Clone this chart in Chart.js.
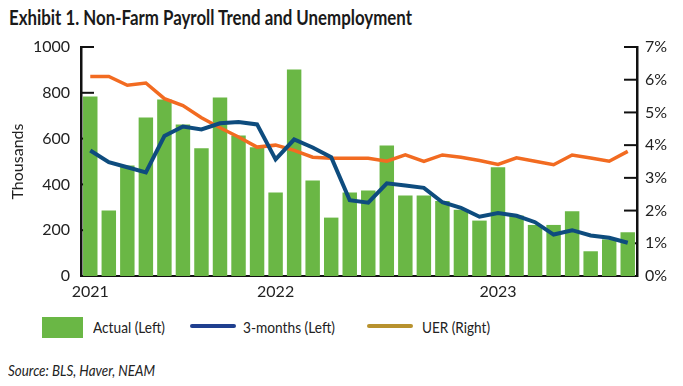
<!DOCTYPE html>
<html>
<head>
<meta charset="utf-8">
<script src="https://cdn.jsdelivr.net/npm/chart.js"></script>
<style>
  body { margin: 0; width: 683px; height: 386px; background: #fff; position: relative; overflow: hidden;
         font-family: Lato, 'Open Sans', sans-serif; color: #222; }
  #title { position: absolute; left: 9px; top: 4px; font-weight: bold; font-size: 21px; color: #1a1a1a; }
  #wrap { position: absolute; left: 0; top: 0; width: 683px; height: 300px; }
  .leg { position: absolute; top: 316px; font-size: 16px; line-height: 22px; }
  .fit { white-space: nowrap; transform-origin: 0 0; }
  .sw { position: absolute; }
  #source { position: absolute; left: 8px; top: 360px; font-size: 16px; font-style: italic; }
</style>
</head>
<body>
<div id="title" class="fit" data-w="403">Exhibit 1. Non-Farm Payroll Trend and Unemployment</div>
<div id="wrap"><canvas id="payChart"></canvas></div>

<div class="sw" style="left:42px;top:317px;width:41px;height:21px;background:#6ab745"></div>
<div class="leg fit" data-w="72" style="left:93px">Actual (Left)</div>
<div class="sw" style="left:190px;top:324px;width:46px;height:4px;border-radius:2px;background:#1f3f8f"></div>
<div class="leg fit" data-w="92" style="left:243px">3-months (Left)</div>
<div class="sw" style="left:367px;top:324px;width:46px;height:4px;border-radius:2px;background:#b8922e"></div>
<div class="leg fit" data-w="68" style="left:422px">UER (Right)</div>

<div id="source" class="fit" data-w="147">Source: BLS, Haver, NEAM</div>

<script>
// monthly, Mar 2021 - Aug 2023
var months = ['2021-03', '2021-04', '2021-05', '2021-06', '2021-07', '2021-08', '2021-09', '2021-10', '2021-11', '2021-12',
    '2022-01', '2022-02', '2022-03', '2022-04', '2022-05', '2022-06', '2022-07', '2022-08', '2022-09', '2022-10', '2022-11', '2022-12',
    '2023-01', '2023-02', '2023-03', '2023-04', '2023-05', '2023-06', '2023-07', '2023-08']

// payroll change, thousands
var actual = [784, 286, 482, 692, 771, 662, 558, 779, 613, 562,
    365, 902, 417, 255, 365, 373, 570, 352, 352, 327, 289, 242,
    475, 264, 223, 223, 283, 108, 160, 191]

var threeMonth = [548, 497, 475, 452, 611, 653, 640, 667, 672, 662,
    509, 596, 561, 519, 331, 320, 405, 395, 385, 322, 298, 259,
    275, 263, 235, 181, 200, 177, 167, 145]

// unemployment rate, %
var uer = [6.1, 6.1, 5.83, 5.9, 5.42, 5.21, 4.84, 4.53, 4.25, 3.94,
    4.0, 3.84, 3.63, 3.6, 3.6, 3.6, 3.51, 3.7, 3.5, 3.7, 3.63, 3.53,
    3.41, 3.61, 3.51, 3.4, 3.7, 3.61, 3.51, 3.81]

// the original uses a narrow face: squeeze texts to their widths there
document.querySelectorAll('.fit').forEach(function (el) {
    var r = el.getBoundingClientRect()
    el.style.transform = 'scaleX(' + (el.dataset.w / r.width) + ')'
})

var tickFont = { family: 'Lato', size: 16 }

// tick marks drawn inward, behind the bars
var innerTicks = {
    id: 'innerTicks',
    beforeDatasetsDraw: function (chart) {
        var c = chart.ctx, a = chart.chartArea
        c.save()
        c.strokeStyle = '#111'
        c.lineWidth = 2
        chart.scales.y.ticks.forEach(function (t) {
            var y = chart.scales.y.getPixelForValue(t.value)
            c.beginPath(); c.moveTo(a.left, y); c.lineTo(a.left + 13, y); c.stroke()
        })
        chart.scales.y2.ticks.forEach(function (t) {
            var y = chart.scales.y2.getPixelForValue(t.value)
            c.beginPath(); c.moveTo(a.right - 13, y); c.lineTo(a.right, y); c.stroke()
        })
        c.restore()
    }
}

var ctx = document.getElementById('payChart').getContext('2d')
var payChart = new Chart(ctx, {
    type: 'bar',
    data: {
        labels: months,
        datasets: [{
            type: 'line',
            label: 'UER (Right)',
            data: uer,
            yAxisID: 'y2',
            borderColor: '#f26b21',
            borderWidth: 3.5,
            pointRadius: 0,
            tension: 0,
            order: 1
        }, {
            type: 'line',
            label: '3-months (Left)',
            data: threeMonth,
            yAxisID: 'y',
            borderColor: '#0e4c7e',
            borderWidth: 4,
            pointRadius: 0,
            tension: 0,
            order: 0
        }, {
            label: 'Actual (Left)',
            data: actual,
            yAxisID: 'y',
            backgroundColor: '#6ab745',
            barPercentage: 0.78,
            categoryPercentage: 1,
            order: 2
        }]
    },
    options: {
        responsive: true,
        maintainAspectRatio: false,
        animation: false,
        layout: { padding: { top: 47, left: 0, right: 0, bottom: 0 } },
        plugins: { legend: { display: false }, tooltip: { enabled: false } },
        scales: {
            x: {
                grid: { display: false, drawTicks: false },
                border: { display: true, color: '#111', width: 2 },
                ticks: {
                    autoSkip: false, maxRotation: 0, padding: 6, color: '#222', font: tickFont,
                    callback: function (v, i) {
                        var m = months[i]
                        return (i === 0 || m.slice(5) === '01') ? m.slice(0, 4) : ''
                    }
                },
                afterFit: function (s) { s.height = 24 }
            },
            y: {
                position: 'left',
                min: 0, max: 1000,
                grid: { display: false, drawTicks: false },
                border: { display: true, color: '#111', width: 2.5 },
                ticks: {
                    stepSize: 200, padding: 11, color: '#222', font: tickFont,
                    callback: function (v) { return String(v) }
                },
                title: { display: true, text: 'Thousands', color: '#222', font: tickFont, padding: { top: 8, bottom: 0 } },
                afterFit: function (s) { s.width = 81 }
            },
            y2: {
                position: 'right',
                min: 0, max: 7,
                grid: { display: false, drawTicks: false },
                border: { display: true, color: '#111', width: 2.5 },
                ticks: {
                    stepSize: 1, padding: 8, color: '#222', font: tickFont,
                    callback: function (v) { return v + '%' }
                },
                afterFit: function (s) { s.width = 46 }
            }
        }
    },
    plugins: [innerTicks]
})
</script>
</body>
</html>
